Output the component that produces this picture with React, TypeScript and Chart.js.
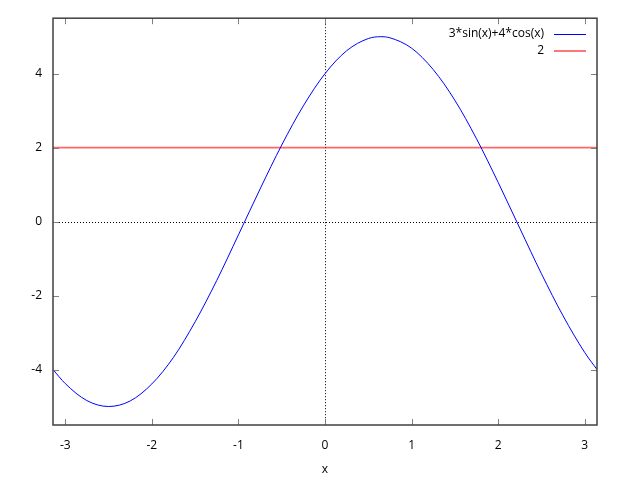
import React, { useEffect, useRef } from 'react';
import { Chart, registerables } from 'chart.js';

Chart.register(...registerables);

// x samples and their values
const xValues = [
  -3.1416, -3.0, -2.75, -2.5, -2.25, -2.0, -1.75, -1.5, -1.25, -1.0, -0.75, -0.5, -0.25,
  0.0, 0.25, 0.5, 0.6435, 0.75, 1.0, 1.25, 1.5, 1.75, 2.0, 2.25, 2.5, 2.75, 3.0, 3.1416,
];
const curveValues = [
  -4.0, -4.38, -4.84, -5.0, -4.85, -4.39, -3.67, -2.71, -1.59, -0.36, 0.88, 2.07, 3.13,
  4.0, 4.62, 4.95, 5.0, 4.97, 4.69, 4.11, 3.28, 2.24, 1.06, -0.18, -1.41, -2.55, -3.54, -4.0,
];
const constX = [-3.1416, 3.1416];
const constValues = [2, 2];
const seriesLabels = ['3*sin(x)+4*cos(x)', '2'];
const seriesColors = ['rgb(0,0,255)', 'rgba(255,0,0,0.6)'];
const seriesWidths = [1, 1.8];
const xTicks = [-3, -2, -1, 0, 1, 2, 3];
const yTicks = [-4, -2, 0, 2, 4];
const xTitle = 'x';

const FONT = "'Open Sans', 'DejaVu Sans', sans-serif";

const framePlugin = {
  id: 'gnuframe',
  beforeDatasetsDraw(chart: any) {
    const { ctx, chartArea: a, scales } = chart;
    const x0 = Math.round(scales.x.getPixelForValue(0)) + 0.5;
    const y0 = Math.round(scales.y.getPixelForValue(0)) + 0.5;
    ctx.save();
    ctx.strokeStyle = '#000';
    ctx.lineWidth = 1;
    ctx.setLineDash([1, 2]);
    ctx.beginPath();
    ctx.moveTo(a.left, y0);
    ctx.lineTo(a.right, y0);
    ctx.moveTo(x0, a.top);
    ctx.lineTo(x0, a.bottom);
    ctx.stroke();
    ctx.restore();
  },
  afterDatasetsDraw(chart: any) {
    const { ctx, chartArea: a, scales } = chart;
    ctx.save();
    ctx.strokeStyle = '#808080';
    ctx.lineWidth = 1;
    ctx.beginPath();
    const tl = 6;
    xTicks.forEach((v) => {
      const px = Math.round(scales.x.getPixelForValue(v)) + 0.5;
      ctx.moveTo(px, a.bottom);
      ctx.lineTo(px, a.bottom - tl);
      ctx.moveTo(px, a.top);
      ctx.lineTo(px, a.top + tl);
    });
    yTicks.forEach((v) => {
      const py = Math.round(scales.y.getPixelForValue(v)) + 0.5;
      ctx.moveTo(a.left, py);
      ctx.lineTo(a.left + tl, py);
      ctx.moveTo(a.right, py);
      ctx.lineTo(a.right - tl, py);
    });
    ctx.stroke();
    ctx.strokeStyle = '#404040';
    ctx.lineWidth = 1.5;
    ctx.strokeRect(a.left, a.top, a.right - a.left, a.bottom - a.top);
    ctx.restore();
  },
  afterDraw(chart: any) {
    const { ctx } = chart;
    ctx.save();
    ctx.font = `12px ${FONT}`;
    ctx.textAlign = 'right';
    ctx.textBaseline = 'middle';
    chart.data.datasets.forEach((ds: any, i: number) => {
      const y = 33.5 + i * 17;
      ctx.fillStyle = '#000';
      ctx.fillText(ds.label, 544, y);
      ctx.strokeStyle = ds.borderColor;
      ctx.lineWidth = ds.borderWidth;
      ctx.beginPath();
      const yy = ds.borderWidth === 1 ? Math.round(y) + 0.5 : Math.round(y);
      ctx.moveTo(554, yy);
      ctx.lineTo(586, yy);
      ctx.stroke();
    });
    ctx.restore();
  },
};

export default function App() {
  const ref = useRef<HTMLCanvasElement | null>(null);
  useEffect(() => {
    if (!ref.current) return;
    const chart = new Chart(ref.current, {
      type: 'line',
      data: {
        datasets: [
          {
            label: seriesLabels[0],
            data: xValues.map((x, i) => ({ x, y: curveValues[i] })),
            borderColor: seriesColors[0],
            borderWidth: seriesWidths[0],
            pointRadius: 0,
            cubicInterpolationMode: 'monotone',
            fill: false,
          },
          {
            label: seriesLabels[1],
            data: constX.map((x, i) => ({ x, y: constValues[i] })),
            borderColor: seriesColors[1],
            borderWidth: seriesWidths[1],
            pointRadius: 0,
            fill: false,
          },
        ],
      },
      options: {
        responsive: false,
        animation: false,
        events: [],
        layout: { padding: { top: 18, right: 43, left: 0, bottom: 0 } },
        plugins: { legend: { display: false }, tooltip: { enabled: false } },
        scales: {
          x: {
            type: 'linear',
            min: -Math.PI,
            max: Math.PI,
            grid: { display: false, drawTicks: false },
            border: { display: false },
            afterBuildTicks: (s: any) => {
              s.ticks = xTicks.map((v) => ({ value: v }));
            },
            afterFit: (s: any) => {
              s.height = 55;
            },
            ticks: {
              padding: 13,
              color: '#000',
              font: { family: FONT, size: 12 },
              maxRotation: 0,
              autoSkip: false,
            },
            title: {
              display: true,
              text: xTitle,
              color: '#000',
              font: { family: FONT, size: 12 },
              padding: { top: 0, bottom: 3 },
            },
          },
          y: {
            type: 'linear',
            min: -5.5,
            max: 5.5,
            grid: { display: false, drawTicks: false },
            border: { display: false },
            afterBuildTicks: (s: any) => {
              s.ticks = yTicks.map((v) => ({ value: v }));
            },
            afterFit: (s: any) => {
              s.width = 53;
            },
            ticks: {
              padding: 11,
              color: '#000',
              font: { family: FONT, size: 12 },
              autoSkip: false,
            },
          },
        },
      },
      plugins: [framePlugin],
    } as any);
    return () => chart.destroy();
  }, []);
  return (
    <div style={{ position: 'fixed', left: 0, top: 0, width: 640, height: 480, background: '#fff' }}>
      <canvas ref={ref} width={640} height={480} style={{ display: 'block' }} />
    </div>
  );
}
